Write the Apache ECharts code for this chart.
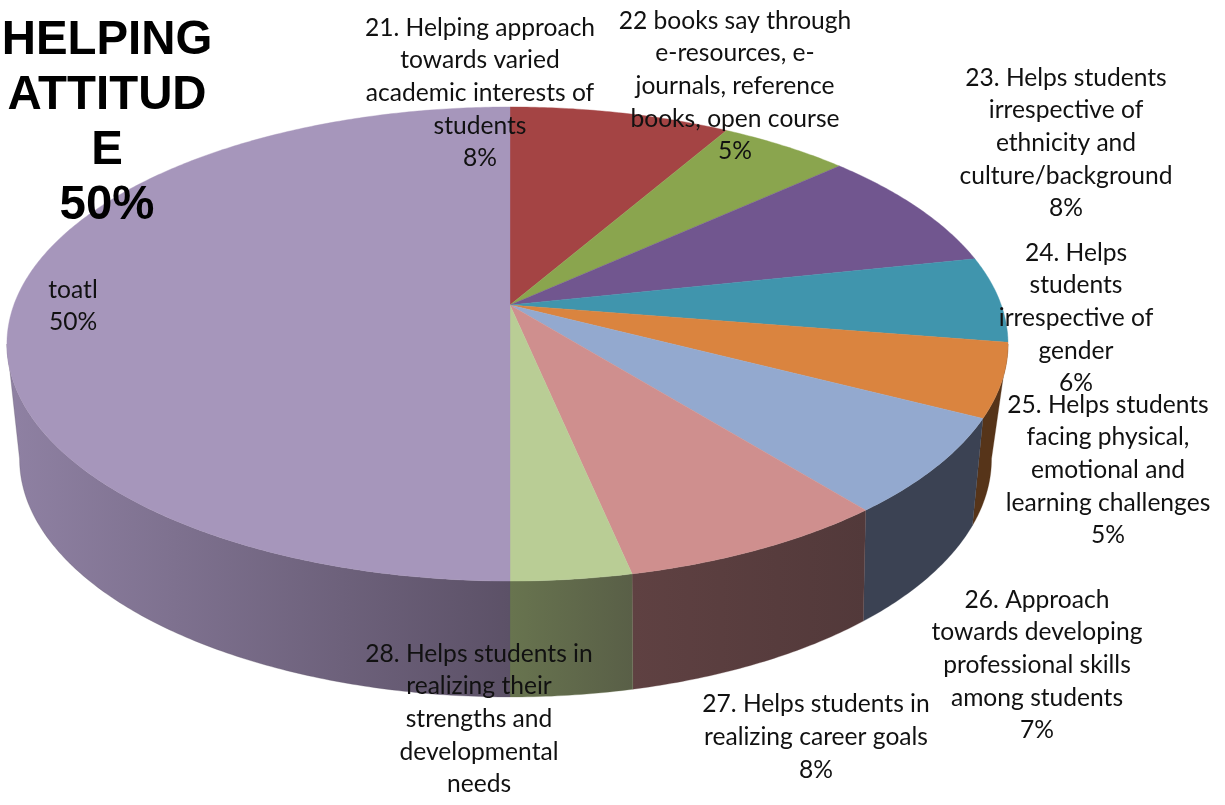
<!DOCTYPE html>
<html>
<head>
<meta charset="utf-8">
<style>html,body{margin:0;padding:0;background:#fff}#c{width:1225px;height:805px}</style>
<script src="https://cdn.jsdelivr.net/npm/echarts@6/dist/echarts.min.js"></script>
</head>
<body>
<div id="c"></div>
<script>
// ---- data ----
const categories = [
  '21. Helping approach\ntowards varied\nacademic interests of\nstudents',
  '22 books say through\ne-resources, e-\njournals, reference\nbooks, open course',
  '23. Helps students\nirrespective of\nethnicity and\nculture/background',
  '24. Helps\nstudents\nirrespective of\ngender',
  '25. Helps students\nfacing physical,\nemotional and\nlearning challenges',
  '26. Approach\ntowards developing\nprofessional skills\namong students',
  '27. Helps students in\nrealizing career goals',
  '28. Helps students in\nrealizing their\nstrengths and\ndevelopmental\nneeds',
  'toatl'
];
const values = [8.37, 4.96, 8.35, 5.84, 5.0, 6.62, 7.53, 3.33, 50];
const percentLabels = ['8%', '5%', '8%', '6%', '5%', '7%', '8%', '', '50%'];
const titleText = 'HELPING\nATTITUD\nE\n50%';

// ---- styling ----
const topColors = ['#A44444', '#8AA54E', '#71568F', '#4095AD', '#DA843F', '#93A9CF', '#CF8F8E', '#B9CD95', '#A696BB'];
const wallColors = [
  null, null, null, null,
  ['#563419', '#563419'],
  ['#3B4253', '#3B4253'],
  ['#5F4142', '#52393A'],
  ['#68744F', '#595F47'],
  ['#5C5167', '#8F81A3']
];
const labelCentres = [
  [480, 93], [735, 86], [1066, 143], [1076, 318], [1108, 470],
  [1037, 665], [816, 737], [479, 719], [73, 306]
];
const topDisc = { cx: 510, r: 493.7, a: -180.4, b: 305, c: 0.1646, d: 0.005 };
const bottomDisc = { cx: 510, r: 476, a: -145.9, b: 411, c: 0.201, d: 0.009 };

const total = values.reduce((s, v) => s + v, 0);
const starts = [];
values.reduce((s, v, i) => { starts[i] = s; return s + v; }, 0);
const toAngle = p => (p / total) * Math.PI * 2;

function project(disc, t) {
  const u = Math.sin(t), v = Math.cos(t), w = 1 + disc.c * v;
  return [disc.cx + disc.r * u / (w + disc.d * u), (disc.a * v + disc.b) / w];
}
function arc(disc, t0, t1) {
  const pts = [], n = Math.max(2, Math.ceil(Math.abs(t1 - t0) / 0.01));
  for (let i = 0; i <= n; i++) pts.push(project(disc, t0 + (t1 - t0) * i / n));
  return pts;
}
// the side of the disc is visible only between its two silhouette angles
const visibleRange = disc => {
  const s = Math.acos(-disc.c);
  return [s, Math.PI * 2 - s];
};

function renderTop(params, api) {
  const i = params.dataIndex;
  const t0 = toAngle(starts[i]), t1 = t0 + toAngle(api.value(0));
  const centre = [topDisc.cx, topDisc.b];
  return {
    type: 'polygon',
    shape: { points: [centre].concat(arc(topDisc, t0, t1)) },
    style: { fill: topColors[i], stroke: topColors[i], lineWidth: 0.4 }
  };
}
function renderWall(params, api) {
  const i = params.dataIndex;
  const colours = wallColors[i];
  if (!colours) return null;
  const t0 = toAngle(starts[i]), t1 = t0 + toAngle(api.value(0));
  const rt = visibleRange(topDisc), rb = visibleRange(bottomDisc);
  const a0 = Math.max(t0, rt[0]), a1 = Math.min(t1, rt[1]);
  const b0 = Math.max(t0, rb[0]), b1 = Math.min(t1, rb[1]);
  if (a1 <= a0 || b1 <= b0) return null;
  const pts = arc(topDisc, a0, a1).concat(arc(bottomDisc, b1, b0));
  return {
    type: 'polygon',
    shape: { points: pts },
    style: {
      fill: {
        type: 'linear', x: 0, y: 0, x2: 1, y2: 0,
        colorStops: i === 8
          ? [{ offset: 0, color: colours[1] }, { offset: 1, color: colours[0] }]
          : [{ offset: 0, color: colours[0] }, { offset: 1, color: colours[1] }]
      },
      stroke: colours[0], lineWidth: 0.3
    }
  };
}

const labelFont = { fontFamily: 'Lato', fontSize: 24.6, fill: '#111', lineHeight: 32.6, align: 'center', verticalAlign: 'middle' };
const labels = categories.map((name, i) => ({
  type: 'text',
  silent: true,
  z: 100,
  style: Object.assign({
    text: percentLabels[i] ? name + '\n' + percentLabels[i] : name,
    x: labelCentres[i][0],
    y: labelCentres[i][1]
  }, labelFont)
}));
labels.push({
  type: 'text',
  silent: true,
  z: 100,
  style: {
    text: titleText, x: 107, y: 123,
    fontFamily: 'Liberation Sans', fontWeight: 'bold', fontSize: 47.4,
    lineHeight: 55, fill: '#000', align: 'center', verticalAlign: 'middle'
  }
});

const chart = echarts.init(document.getElementById('c'), null, { renderer: 'canvas' });
chart.setOption({
  backgroundColor: '#fff',
  animation: false,
  series: [
    { type: 'custom', coordinateSystem: 'none', silent: true, renderItem: renderWall, data: values.map(v => [v]), z: 1 },
    { type: 'custom', coordinateSystem: 'none', silent: true, renderItem: renderTop, data: values.map(v => [v]), z: 2 }
  ],
  graphic: { z: 100, elements: labels }
});
</script>
</body>
</html>
